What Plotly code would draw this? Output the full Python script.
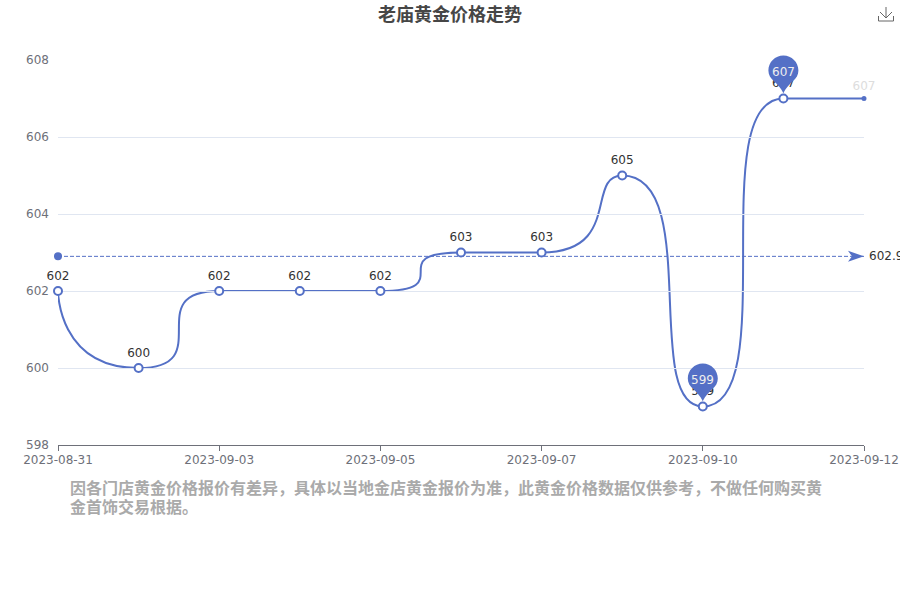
import plotly.graph_objects as go

dates = ["2023-08-31", "2023-09-01", "2023-09-03", "2023-09-04", "2023-09-05", "2023-09-06",
         "2023-09-07", "2023-09-08", "2023-09-10", "2023-09-11", "2023-09-12"]
prices = [602, 600, 602, 602, 602, 603, 603, 605, 599, 607, 607]
label_colors = ["#333333"] * 10 + ["#dddddd"]
tick_dates = dates[0::2]
y_ticks = [598, 600, 602, 604, 606, 608]
title_text = "老庙黄金价格走势"
note_lines = ["因各门店黄金价格报价有差异\uff0c具体以当地金店黄金报价为准\uff0c此黄金价格数据仅供参考\uff0c不做任何购买黄",
              "金首饰交易根据。"]

BLUE = "#5470C6"
FONT = "DejaVu Sans, sans-serif"
CJK = "Noto Sans CJK SC"
average = round(sum(prices) / len(prices), 1)
Y_RANGE = [598, 608.026]
PX_X = 80.6   # plot pixels per category
PX_Y = 38.5   # plot pixels per price unit


def yfrac(v):
    return (v - Y_RANGE[0]) / (Y_RANGE[1] - Y_RANGE[0])


def clamp(v, a, b):
    return max(min(v, max(a, b)), min(a, b))


def smooth_path(values):
    """Bezier path through the values, clamped so that it never overshoots a neighbour."""
    pts = [(i * PX_X, v * PX_Y) for i, v in enumerate(values)]
    cp0 = pts[0]
    path = f"M0,{values[0]}"
    for i in range(1, len(pts)):
        x, y = pts[i]
        if i == len(pts) - 1:
            cp1 = nxt = (x, y)
        else:
            px, py = pts[i - 1]
            nx, ny = pts[i + 1]
            len_prev = ((x - px) ** 2 + (y - py) ** 2) ** 0.5
            len_next = ((nx - x) ** 2 + (ny - y) ** 2) ** 0.5
            ratio = len_next / (len_next + len_prev)
            ncx = clamp(x + (nx - px) * ratio, x, nx)
            ncy = clamp(y + (ny - py) * ratio, y, ny)
            vx, vy = ncx - x, ncy - y
            cx = clamp(x - vx * len_prev / len_next, px, x)
            cy = clamp(y - vy * len_prev / len_next, py, y)
            vx, vy = x - cx, y - cy
            cp1 = (cx, cy)
            nxt = (x + vx * len_next / len_prev, y + vy * len_next / len_prev)
        path += (f" C{cp0[0] / PX_X:.4f},{cp0[1] / PX_Y:.4f} {cp1[0] / PX_X:.4f},{cp1[1] / PX_Y:.4f}"
                 f" {i},{values[i]}")
        cp0 = nxt
    return path


PIN = ("M0,5 C-1.5,9 -4,12 -9,17 C-13,20 -15,24 -15,28 C-15,36.3 -8.3,43 0,43 "
       "C8.3,43 15,36.3 15,28 C15,24 13,20 9,17 C4,12 1.5,9 0,5 Z")
ARROW = "M0,0 L-16,5.5 L-12,0 L-16,-5.5 Z"
ICON = "M-7.5,-1 L-7.5,-6 L7.5,-6 L7.5,-1 M0,8 L0,-3 M-6,3 L0,-3 L6,3"

fig = go.Figure()

# average line
fig.add_trace(go.Scatter(
    x=[dates[0], dates[-1]], y=[average, average], mode="lines",
    line=dict(color=BLUE, width=1, dash="4px,2px"), hoverinfo="skip", showlegend=False))
fig.add_trace(go.Scatter(
    x=[dates[0]], y=[average], mode="markers",
    marker=dict(color=BLUE, size=8), cliponaxis=False, hoverinfo="skip", showlegend=False))

# price points
sizes = [8] * 10 + [3]
fills = ["#ffffff"] * 10 + [BLUE]
fig.add_trace(go.Scatter(
    x=dates, y=prices, mode="markers",
    marker=dict(size=sizes, color=fills, opacity=1, line=dict(color=BLUE, width=2)),
    cliponaxis=False, showlegend=False))
# value labels, lifted by an invisible larger marker
fig.add_trace(go.Scatter(
    x=dates, y=prices, mode="markers+text",
    marker=dict(size=[12] * 10 + [7], opacity=0),
    text=[str(v) for v in prices], textposition="top center",
    textfont=dict(family=FONT, size=12, color=label_colors),
    hoverinfo="skip", cliponaxis=False, showlegend=False))

shapes = [dict(type="path", path=smooth_path(prices), xref="x", yref="y", line=dict(color=BLUE, width=2),
               fillcolor="rgba(0,0,0,0)", layer="below")]
annotations = []
for value in (min(prices), max(prices)):
    d = dates[prices.index(value)]
    shapes.append(dict(type="path", path=PIN, xref="x", yref="paper", xsizemode="pixel", ysizemode="pixel",
                       xanchor=d, yanchor=yfrac(value), fillcolor=BLUE, line=dict(width=0), layer="above"))
    annotations.append(dict(x=d, y=value, xref="x", yref="y", text=str(value), showarrow=False,
                            yshift=27, font=dict(family=FONT, size=12, color="#eeeeee")))

shapes.append(dict(type="path", path=ARROW, xref="x", yref="paper", xsizemode="pixel", ysizemode="pixel",
                   xanchor=dates[-1], yanchor=yfrac(average), fillcolor=BLUE, line=dict(width=0), layer="above"))
shapes.append(dict(type="path", path=ICON, xref="paper", yref="paper", xsizemode="pixel", ysizemode="pixel",
                   xanchor=(886 - 58) / 806, yanchor=1 + (59 - 15) / 386, line=dict(color="#666666", width=1),
                   fillcolor="rgba(0,0,0,0)"))

annotations.append(dict(x=dates[-1], y=average, xref="x", yref="y", text=str(average), showarrow=False,
                        xanchor="left", xshift=3, font=dict(family=FONT, size=12, color="#333333")))
for line, mid in zip(note_lines, (487, 506)):
    annotations.append(dict(xref="paper", yref="paper", x=(68 - 58) / 806, y=1 - (mid - 59) / 386,
                            xanchor="left", yanchor="middle", text=f"<b>{line}</b>", showarrow=False,
                            font=dict(family=CJK, size=16, color="#aaaaaa")))

fig.update_layout(
    width=900, height=600, paper_bgcolor="white", plot_bgcolor="white",
    margin=dict(l=58, r=36, t=59, b=155, pad=0),
    title=dict(text=f"<b>{title_text}</b>", x=0.5, xanchor="center", y=1 - 15 / 600, yanchor="middle",
               font=dict(family=CJK, size=18, color="#464646")),
    xaxis=dict(type="category", categoryorder="array", categoryarray=dates, range=[0, 10], automargin=False,
               tickmode="array", tickvals=tick_dates, ticktext=tick_dates,
               ticks="outside", ticklen=5, tickcolor="#6E7079", showline=True, linecolor="#6E7079",
               showgrid=False, zeroline=False, tickangle=0, ticklabelstandoff=-1,
               tickfont=dict(family=FONT, size=12, color="#6E7079")),
    yaxis=dict(range=Y_RANGE, tickmode="array", tickvals=y_ticks, showline=False, ticks="", automargin=False,
               gridcolor="#E0E6F1", gridwidth=1, zeroline=False, ticklabelstandoff=8,
               tickfont=dict(family=FONT, size=12, color="#6E7079")),
    shapes=shapes, annotations=annotations, showlegend=False)

fig.write_html("out.html", config=dict(displayModeBar=False),
               post_script="document.body.style.margin='0';")
